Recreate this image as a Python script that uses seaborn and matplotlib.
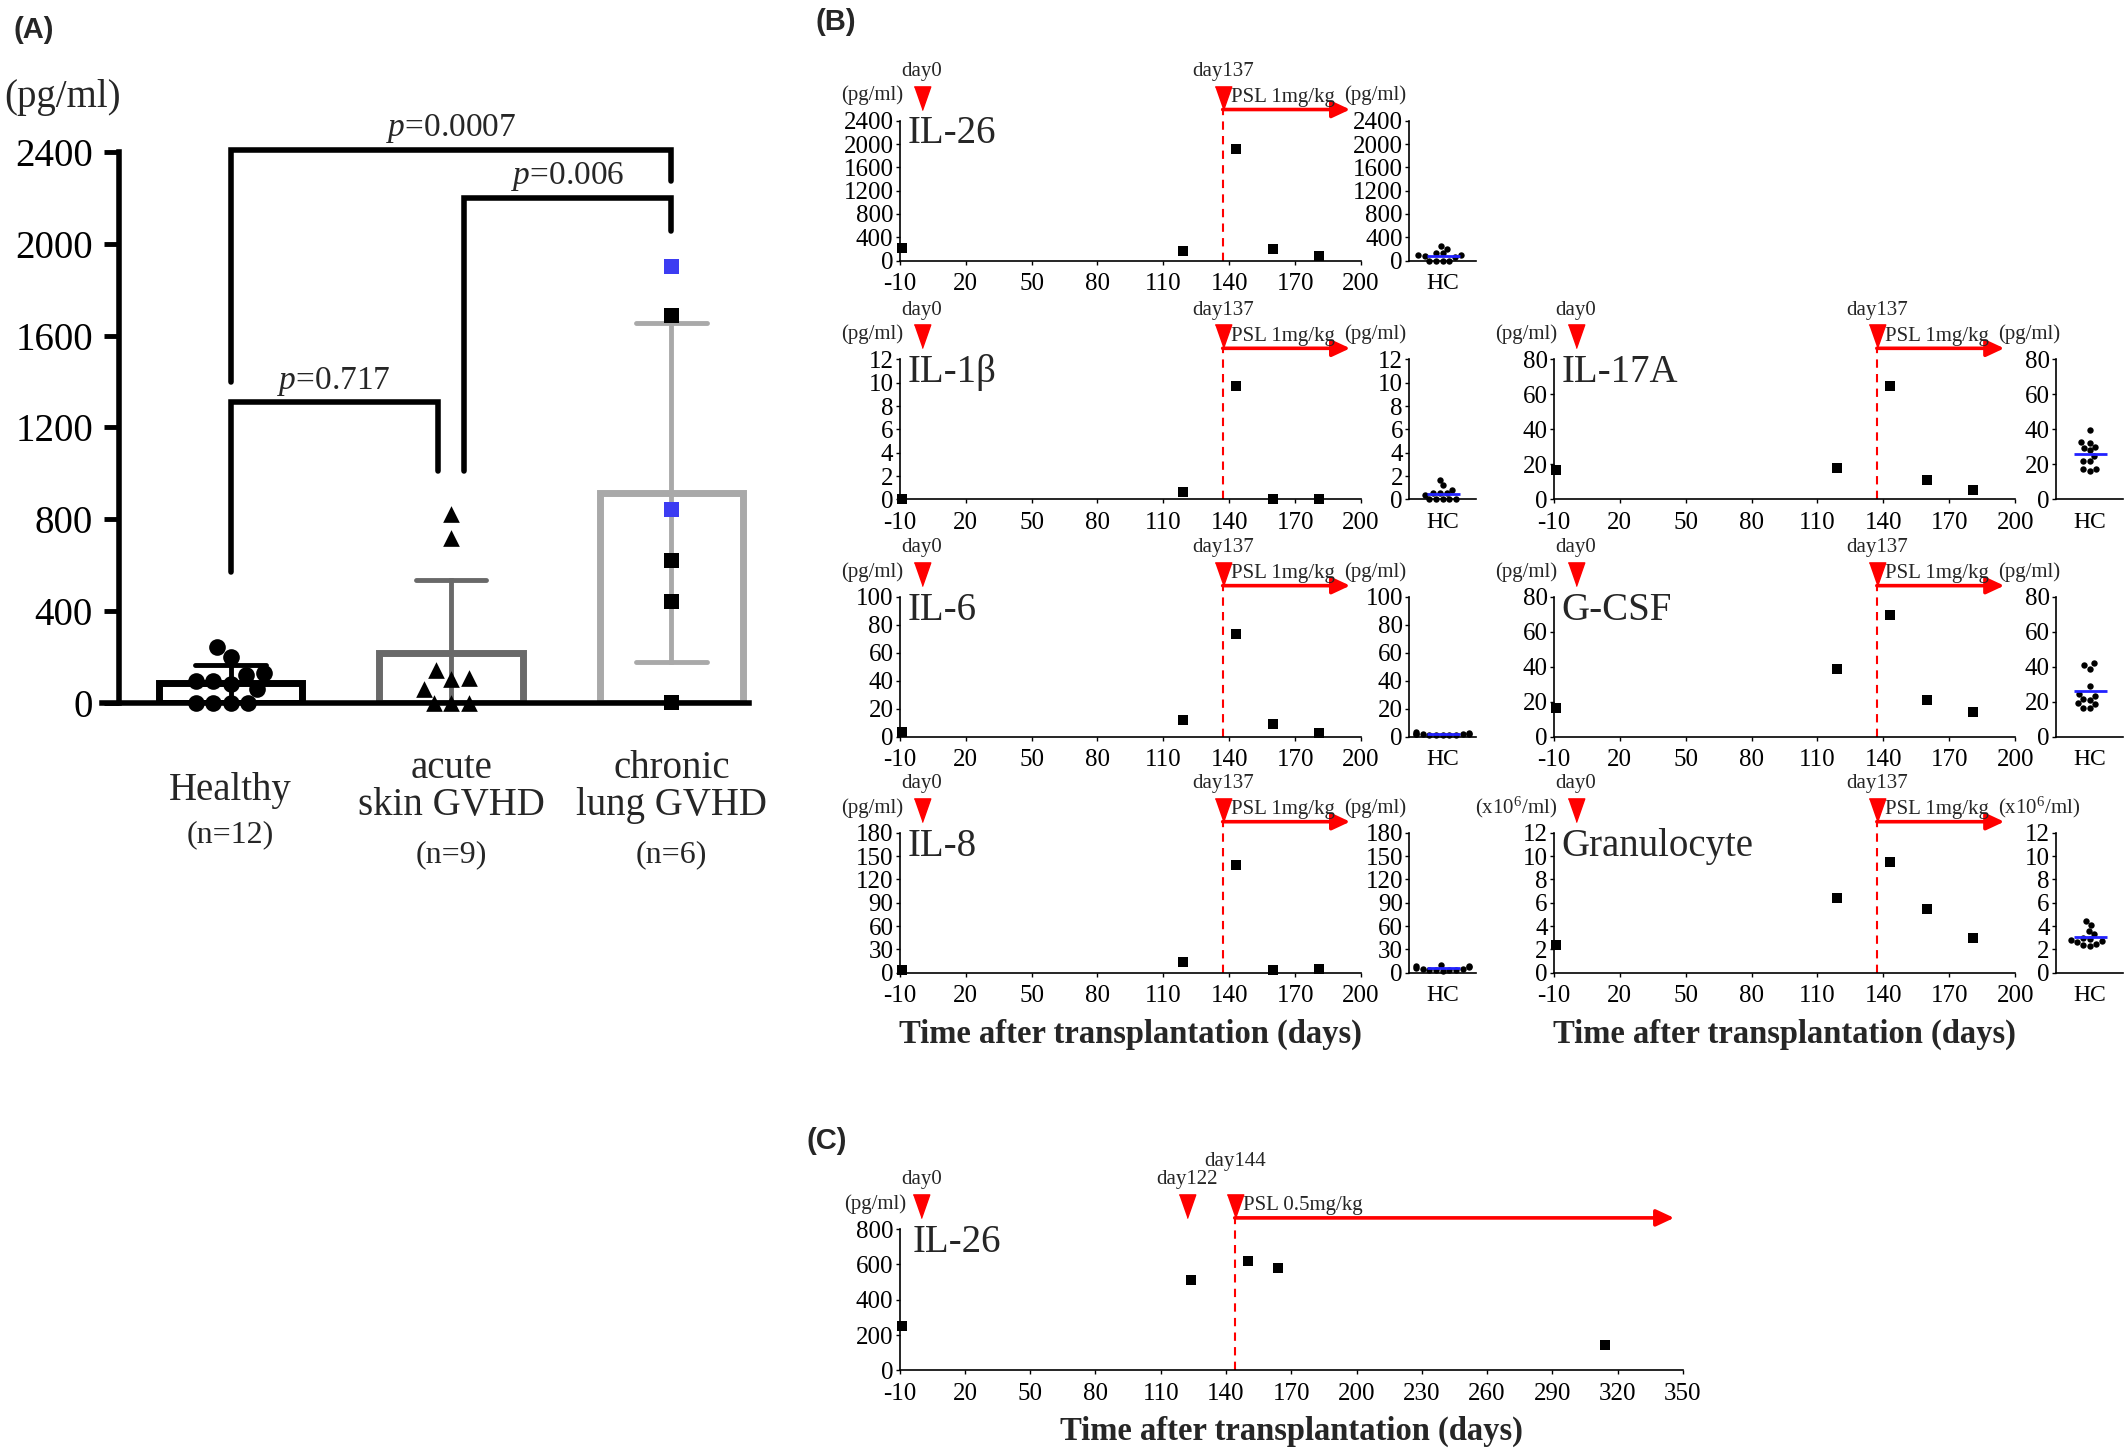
import numpy as np
import pandas as pd
import matplotlib.pyplot as plt
import seaborn as sns

sns.set_theme(style='ticks')
plt.rcParams['font.family'] = ['Liberation Serif', 'DejaVu Serif']
plt.rcParams['mathtext.fontset'] = 'custom'
plt.rcParams['mathtext.rm'] = 'Liberation Serif'
plt.rcParams['mathtext.it'] = 'Liberation Serif:italic'
plt.rcParams['axes.unicode_minus'] = False

# ── Panel A: serum IL-26 by group ─────────────────────────
group_names = ['Healthy', 'acute skin GVHD', 'chronic lung GVHD']
group_titles = ['Healthy', 'acute\nskin GVHD', 'chronic\nlung GVHD']
group_n = ['(n=12)', '(n=9)', '(n=6)']
healthy_vals = [198, 94, 0, 121, 83, 0, 245, 62, 129, 0, 94, 0]
acute_vals = [104, 0, 62, 822, 718, 108, 0, 141, 0]
chronic_vals = [1903, 1689, 842, 620, 441, 0]
chronic_blue = [True, False, True, False, False, False]
a_yticks = [0, 400, 800, 1200, 1600, 2000, 2400]

# brackets: left leg x, right leg x, top, left foot, right foot, p value
brackets = [
    (0.0, 0.94, 1310, 568, 1010, '0.717'),
    (1.06, 2.0, 2200, 1010, 2056, '0.006'),
    (0.0, 2.0, 2410, 1400, 2275, '0.0007'),
]

# ── Panel B: time course after transplantation ────────────
sample_days = [-9, 119, 143, 160, 181]
il26_b = [216, 159, 1918, 199, 85]
il1b_b = [0.05, 0.6, 9.7, 0.0, 0.0]
il6_b = [3.3, 11.6, 73.6, 9.0, 2.8]
il8_b = [3.4, 14, 139, 3.4, 4.7]
il17a_b = [17, 18, 65, 11, 5.5]
gcsf_b = [16.6, 38.9, 69.5, 20.8, 14.3]
gran_b = [2.4, 6.4, 9.5, 5.5, 2.95]

hc_il26 = healthy_vals
hc_il1b = [1.7, 1.2, 0.8, 0.5, 0.5, 0.5, 0.4, 0, 0, 0, 0, 0]
hc_il6 = [3.0, 2.6, 2.2, 2.0, 2.0, 1.8, 1.6, 1.5, 1.3, 1.2, 1.0, 0.9]
hc_il8 = [10, 9, 8, 7, 6, 5, 5, 4, 4, 3, 3, 2]
hc_il17a = [33, 29.8, 24.8, 16.4, 39.7, 32, 28, 22, 17.3, 29.6, 22, 17.3]
hc_gcsf = [39, 40.8, 41.9, 29, 24.2, 16.5, 19, 21.3, 16.6, 23.2, 18.5, 21]
hc_gran = [4.4, 4.1, 3.6, 3.3, 3.0, 2.9, 2.8, 2.7, 2.6, 2.5, 2.4, 2.3]

b_events = [0, 137]
b_event_labels = ['day0', 'day137']
b_psl_day = 137
b_psl_label = 'PSL 1mg/kg'
b_arrow_end = 195

# ── Panel C: second patient IL-26 ─────────────────────────
c_days = [-9, 124, 150, 164, 314]
c_il26 = [252, 512, 622, 578, 144]
c_events = [0, 122, 144]
c_event_labels = ['day0', 'day122', 'day144']
c_psl_day = 144
c_psl_label = 'PSL 0.5mg/kg'
c_arrow_end = 346

RED = '#ff0000'
TIP = 1.08
TRI = [(-0.35, 1.0), (0.35, 1.0), (0.0, 0.0)]
XLAB = 'Time after transplantation (days)'
TICK_FS = 18
SMALL_FS = 15

fig = plt.figure(figsize=(21.28, 14.49), dpi=100)

# ── A ─────────────────────────────────────────────────────
axA = fig.add_axes([0.0478, 0.515, 0.304, 0.380])
dfA = pd.DataFrame({
    'group': [group_names[0]] * len(healthy_vals) + [group_names[1]] * len(acute_vals)
             + [group_names[2]] * len(chronic_vals),
    'value': healthy_vals + acute_vals + chronic_vals,
})
pal = {group_names[0]: 'black', group_names[1]: '#696969', group_names[2]: '#a9a9a9'}
sns.barplot(data=dfA, x='group', y='value', hue='group', order=group_names,
            hue_order=group_names, palette=pal, fill=False, width=0.65,
            linewidth=5, errorbar='sd', capsize=0.32,
            err_kws={'linewidth': 3.5}, legend=False, ax=axA)

sns.swarmplot(x=[group_names[0]] * len(healthy_vals), y=healthy_vals, order=group_names,
              marker='o', color='black', size=12, ax=axA, clip_on=False, zorder=4)
sns.swarmplot(x=[group_names[1]] * len(acute_vals), y=acute_vals, order=group_names,
              marker='^', color='black', size=12, ax=axA, clip_on=False, zorder=4)
sns.swarmplot(x=[group_names[2]] * len(chronic_vals), y=chronic_vals, order=group_names,
              hue=chronic_blue, palette={True: '#3c3cf2', False: 'black'}, legend=False,
              marker='s', size=11, ax=axA, clip_on=False, zorder=4)

axA.set_xlim(-0.585, 2.35)
axA.set_ylim(0, 2400)
axA.set_yticks(a_yticks)
axA.set_xticks([])
axA.set_xlabel('')
axA.set_ylabel('')
sns.despine(ax=axA)
axA.spines['left'].set_position(('data', -0.505))
for sp in ['left', 'bottom']:
    axA.spines[sp].set_linewidth(4)
    axA.spines[sp].set_color('black')
axA.tick_params(axis='y', labelsize=28, length=11, width=3.5, pad=8, colors='black')

for xl, xr, top, fl, fr, p in brackets:
    axA.plot([xl, xl, xr, xr], [fl, top, top, fr], color='black', lw=4,
             clip_on=False, solid_joinstyle='miter')
    axA.text((xl + xr) / 2, top + 20, f'$p$=' + p, ha='center', va='bottom',
             fontsize=24)

trA = axA.get_xaxis_transform()
for i, (title, n) in enumerate(zip(group_titles, group_n)):
    two = '\n' in title
    axA.text(i, -0.153 if two else -0.160, title, transform=trA, ha='center',
             va='center', fontsize=28, linespacing=1.0)
    axA.text(i, -0.276 if two else -0.239, n, transform=trA, ha='center',
             va='center', fontsize=23)

fig.text(0.0293, 0.9326, '(pg/ml)', ha='center', va='center', fontsize=28)


# ── helpers for B and C ───────────────────────────────────
def time_course(ax, days, vals, ymax, ystep, unit, name, events, labels,
                label_y, psl_day, psl_label, arrow_end, xmax, unit_right=None):
    sns.scatterplot(x=days, y=vals, marker='s', color='black', s=42, linewidth=0,
                    ax=ax, clip_on=False, zorder=5)
    ax.set_xlim(-10, xmax)
    ax.set_ylim(0, ymax)
    ax.set_xticks(range(-10, xmax + 1, 30))
    ax.set_yticks(np.arange(0, ymax + ystep / 2, ystep))
    sns.despine(ax=ax)
    for sp in ['left', 'bottom']:
        ax.spines[sp].set_linewidth(1.2)
        ax.spines[sp].set_color('black')
    ax.tick_params(labelsize=TICK_FS, length=3, width=1, pad=1.5, colors='black')
    ax.tick_params(axis='x', pad=6)
    tr = ax.get_xaxis_transform()
    ax.plot([psl_day, psl_day], [0, TIP], transform=tr, color=RED, ls=(0, (4, 3)),
            lw=1.5, clip_on=False, zorder=2)
    ax.annotate('', xy=(arrow_end, TIP), xytext=(psl_day, TIP), xycoords=tr,
                textcoords=tr, annotation_clip=False,
                arrowprops=dict(arrowstyle='-|>,head_length=0.9,head_width=0.42',
                                lw=2.6, color=RED, shrinkA=0, shrinkB=0,
                                mutation_scale=12))
    ax.plot(events, [TIP] * len(events), transform=tr, ls='none', marker=TRI,
            ms=34, color=RED, mec=RED, clip_on=False, zorder=6)
    for d, lab, ty in zip(events, labels, label_y):
        ax.text(d, ty, lab, transform=tr, ha='center', va='center', fontsize=SMALL_FS)
    ax.annotate(psl_label, xy=(psl_day, 1.165), xycoords=tr, xytext=(6, 0),
                textcoords='offset points', va='center', ha='left', fontsize=SMALL_FS)
    ax.text(0.008, 1.18, unit, transform=ax.transAxes, ha='right', va='center',
            fontsize=SMALL_FS)
    if unit_right:
        ax.text(0.963, 1.18, unit_right, transform=ax.transAxes, ha='left',
                va='center', fontsize=SMALL_FS)
    ax.text(0.017, 0.905, name, transform=ax.transAxes, ha='left', va='center',
            fontsize=28)
    ax.set_xlabel('')
    ax.set_ylabel('')


def hc_panel(hax, vals, ymax, ystep):
    sns.swarmplot(y=vals, color='black', size=4.6, ax=hax, clip_on=False, zorder=3)
    hax.hlines(np.mean(vals), -0.24, 0.26, color='#2222ff', lw=2, zorder=4)
    hax.set_xlim(-0.5, 0.5)
    hax.set_ylim(0, ymax)
    hax.set_yticks(np.arange(0, ymax + ystep / 2, ystep))
    hax.set_xticks([0])
    hax.set_xticklabels(['HC'])
    sns.despine(ax=hax)
    for sp in ['left', 'bottom']:
        hax.spines[sp].set_linewidth(1.2)
        hax.spines[sp].set_color('black')
    hax.tick_params(labelsize=TICK_FS, length=3, width=1, pad=1.5, colors='black')
    hax.tick_params(axis='x', length=0, pad=9, labelsize=17)
    hax.set_ylabel('')


b_panels = [
    ('IL-26', il26_b, hc_il26, 2400, 400, '(pg/ml)', 0, 0),
    ('IL-1β', il1b_b, hc_il1b, 12, 2, '(pg/ml)', 0, 1),
    ('IL-6', il6_b, hc_il6, 100, 20, '(pg/ml)', 0, 2),
    ('IL-8', il8_b, hc_il8, 180, 30, '(pg/ml)', 0, 3),
    ('IL-17A', il17a_b, hc_il17a, 80, 20, '(pg/ml)', 1, 1),
    ('G-CSF', gcsf_b, hc_gcsf, 80, 20, '(pg/ml)', 1, 2),
    ('Granulocyte', gran_b, hc_gran, 12, 2, '(x10$^6$/ml)', 1, 3),
]
col_left = [0.4228, 0.7302]
hc_left = [0.6622, 0.9662]
row_bottom = [0.8202, 0.6554, 0.4916, 0.3287]
main_w, hc_w, row_h = 0.2168, 0.0315, 0.0965

for name, vals, hc_vals, ymax, ystep, unit, col, row in b_panels:
    ax = fig.add_axes([col_left[col], row_bottom[row], main_w, row_h])
    hax = fig.add_axes([hc_left[col], row_bottom[row], hc_w, row_h])
    time_course(ax, sample_days, vals, ymax, ystep, unit, name, b_events,
                b_event_labels, [1.35, 1.35], b_psl_day, b_psl_label, b_arrow_end,
                200, unit_right=unit)
    hc_panel(hax, hc_vals, ymax, ystep)
    if row == 3:
        ax.set_xlabel(XLAB, fontsize=23.5, fontweight='bold', labelpad=8)

# ── C ─────────────────────────────────────────────────────
axC = fig.add_axes([0.4228, 0.0543, 0.368, 0.0974])
time_course(axC, c_days, c_il26, 800, 200, '(pg/ml)', 'IL-26', c_events,
            c_event_labels, [1.35, 1.35, 1.48], c_psl_day, c_psl_label,
            c_arrow_end, 350)
axC.set_xlabel(XLAB, fontsize=23.5, fontweight='bold', labelpad=8)

# ── panel letters ─────────────────────────────────────────
for x, y, lab in [(0.0064, 0.979, '(A)'), (0.383, 0.985, '(B)'), (0.379, 0.2125, '(C)')]:
    fig.text(x, y, lab, family='Liberation Sans', fontweight='bold', fontsize=21,
             va='center', ha='left')

fig.savefig('out.png', dpi=100)
